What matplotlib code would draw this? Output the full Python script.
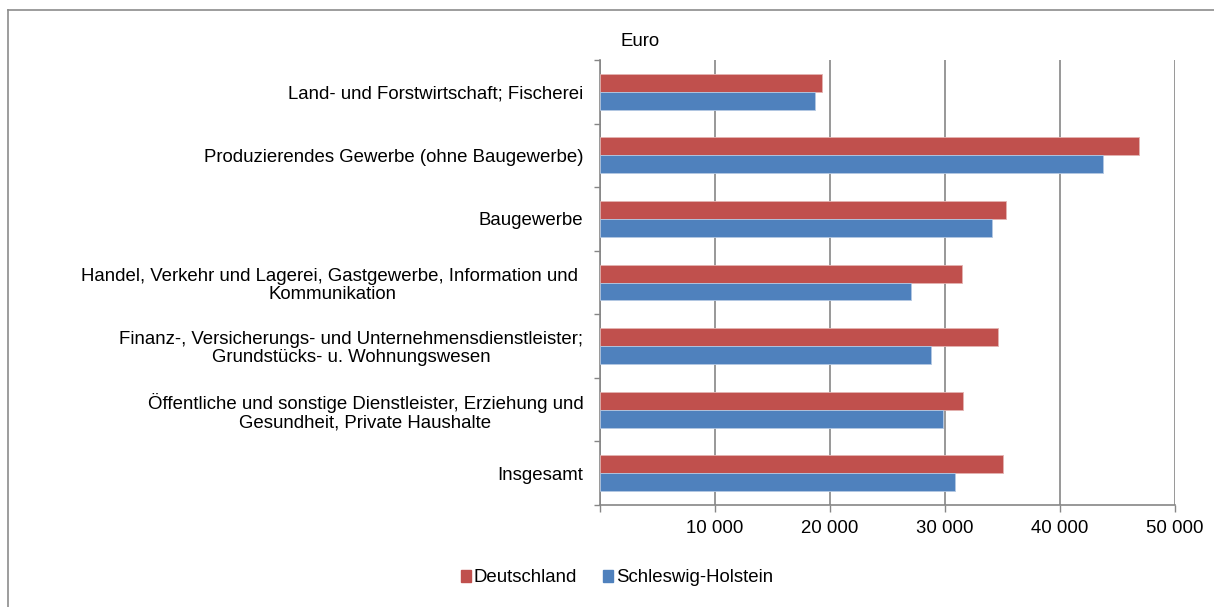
import numpy as np
import matplotlib
matplotlib.use("Agg")
import matplotlib.pyplot as plt
from matplotlib.lines import Line2D
from matplotlib.patches import Patch

plt.rcParams['font.family'] = ['Liberation Sans', 'DejaVu Sans']

# Data (Euro)
categories = [
    "Land- und Forstwirtschaft; Fischerei",
    "Produzierendes Gewerbe (ohne Baugewerbe)",
    "Baugewerbe",
    "Handel, Verkehr und Lagerei, Gastgewerbe, Information und \nKommunikation",
    "Finanz-, Versicherungs- und Unternehmensdienstleister;\nGrundstücks- u. Wohnungswesen",
    "Öffentliche und sonstige Dienstleister, Erziehung und\nGesundheit, Private Haushalte",
    "Insgesamt",
]
deutschland = [19310, 46830, 35280, 31480, 34620, 31550, 35080]
schleswig_holstein = [18690, 43720, 34070, 27030, 28790, 29860, 30910]
x_ticks = [0, 10000, 20000, 30000, 40000, 50000]
x_ticklabels = ["", "10 000", "20 000", "30 000", "40 000", "50 000"]

red = "#C0504D"
blue = "#4F81BD"
grid_col = "#868686"
fs = 13.4

fig = plt.figure(figsize=(12.14, 6.07), dpi=100)
ax = fig.add_axes([600 / 1214, 1 - 505 / 607, 575 / 1214, 445 / 607])

y = np.arange(len(categories))
h = 0.283
ax.barh(y - h / 2, deutschland, height=h, color=red, edgecolor="#E3B3B2",
        linewidth=0.6, label="Deutschland", zorder=3)
ax.barh(y + h / 2, schleswig_holstein, height=h, color=blue, edgecolor="#B4C8E2",
        linewidth=0.6, label="Schleswig-Holstein", zorder=3)

ax.set_ylim(len(categories) - 0.5, -0.5)
ax.set_xlim(0, 50000)

# category boundaries as major ticks, labels on minor ticks
ax.set_yticks(np.arange(len(categories) + 1) - 0.5)
ax.set_yticklabels([])
ax.set_yticks(y, minor=True)
ax.set_yticklabels(categories, minor=True, fontsize=fs, ha="right",
                   multialignment="center", linespacing=1.08)
ax.tick_params(axis="y", which="major", length=4, width=1, color=grid_col, direction="out")
ax.tick_params(axis="y", which="minor", length=0, pad=12)

ax.set_xticks(x_ticks)
ax.set_xticklabels(x_ticklabels, fontsize=fs)
ax.tick_params(axis="x", length=5, width=1, color=grid_col, direction="out", pad=6)

ax.grid(axis="x", color=grid_col, linewidth=1.2, zorder=0)
ax.set_axisbelow(True)
for s in ["top", "right"]:
    ax.spines[s].set_visible(False)
for s in ["left", "bottom"]:
    ax.spines[s].set_color(grid_col)
    ax.spines[s].set_linewidth(1.2)

fig.text(621 / 1214, 1 - 42 / 607, "Euro", fontsize=fs, va="center", ha="left")

handles = [Patch(color=red, label="Deutschland"),
           Patch(color=blue, label="Schleswig-Holstein")]
fig.legend(handles=handles, loc="center", bbox_to_anchor=(617 / 1214, 1 - 578 / 607),
           ncol=2, frameon=False, fontsize=fs, handlelength=0.55, handleheight=0.55,
           handletextpad=0.15, columnspacing=1.4)

# outer chart frame (left and top edges visible)
fig.add_artist(Line2D([8 / 1214, 8 / 1214], [0, 1 - 10 / 607], transform=fig.transFigure,
                      color="#8C8C8C", linewidth=1.2))
fig.add_artist(Line2D([8 / 1214, 1], [1 - 10 / 607, 1 - 10 / 607], transform=fig.transFigure,
                      color="#8C8C8C", linewidth=1.2))

fig.savefig("out.png", dpi=100)
